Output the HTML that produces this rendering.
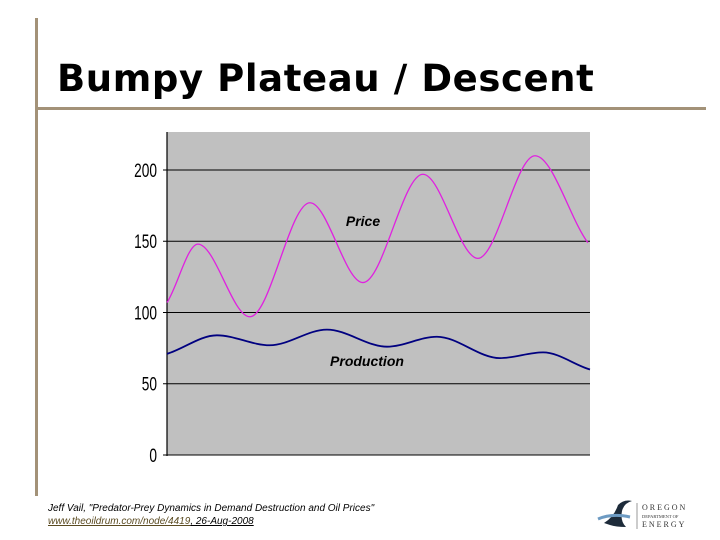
<!DOCTYPE html>
<html><head><meta charset="utf-8"><style>
body{margin:0;width:720px;height:540px;background:#fff;position:relative;overflow:hidden;font-family:"Liberation Sans",sans-serif}
.a{position:absolute}
</style></head><body>
<div class="a" style="left:35px;top:18px;width:3px;height:478px;background:#a39278"></div>
<div class="a" style="left:35px;top:107px;width:671px;height:3px;background:#a39278"></div>
<div class="a" style="left:57px;top:57px;font-family:'DejaVu Sans',sans-serif;font-size:37px;font-weight:bold;color:#000;letter-spacing:0.6px;white-space:nowrap">Bumpy Plateau / Descent</div>
<svg class="a" style="left:0;top:0" width="720" height="540">
<g id="g"></g>
</svg>
<div class="a" style="left:48px;top:502px;font-size:10px;font-style:italic;line-height:13px;color:#000">Jeff Vail, "Predator-Prey Dynamics in Demand Destruction and Oil Prices"<br><span style="text-decoration:underline;color:#5a4a20">www.theoildrum.com/node/4419</span><span style="text-decoration:underline">, 26-Aug-2008</span></div>
<svg class="a" style="left:596px;top:497px" width="120" height="36">
<path d="M8 26 Q18 20 22 8 Q28 2 36 4 Q28 6 26 14 Q24 24 30 30 Q20 30 14 28 Z" fill="#1d2b3a"/>
<path d="M2 22 Q16 16 34 20" stroke="#6d9bc3" stroke-width="3" fill="none"/>
<line x1="41" y1="6" x2="41" y2="32" stroke="#999" stroke-width="1"/>
<text x="46" y="13" font-size="8" letter-spacing="2" fill="#333" font-family="Liberation Serif,serif">OREGON</text>
<text x="46" y="21" font-size="4.5" fill="#333" font-family="Liberation Serif,serif">DEPARTMENT OF</text>
<text x="46" y="30" font-size="8" letter-spacing="2" fill="#333" font-family="Liberation Serif,serif">ENERGY</text>
</svg>
<script>
const yTicks=[0,50,100,150,200];
const priceT=[0,7.3,19.6,33.8,46.3,60.5,73.5,87,99.5];
const priceV=[107,148,97,177,121,197,138,210,149];
const prodT=[0,11.8,24.3,37.8,52,63.8,78.7,88.9,100];
const prodV=[71,84,77,88,76,83,68,72,60];
const X0=167,X1=590,Y0=455,TOP=132;
const sx=t=>X0+t/100*(X1-X0);
const sy=v=>Y0-v*(285/200);
const NS='http://www.w3.org/2000/svg',g=document.getElementById('g');
function mk(tag,at){const e=document.createElementNS(NS,tag);for(const k in at)e.setAttribute(k,at[k]);g.appendChild(e);return e;}
const bg=mk('rect',{x:X0,y:TOP,width:X1-X0,height:Y0-TOP,fill:'#c0c0c0'});


yTicks.forEach(v=>{
 if(v>0){const l=mk('line',{x1:X0,x2:X1,y1:sy(v),y2:sy(v),stroke:'#000','stroke-width':1});
 
 }
 const t=mk('text',{x:157,y:sy(v)+7,'text-anchor':'end','font-size':19,fill:'#000','font-family':'"Liberation Sans Narrow","Liberation Sans",sans-serif',transform:`translate(157 0) scale(0.72 1) translate(-157 0)`});
 t.textContent=v;
 
 
 mk('line',{x1:X0-4,x2:X0,y1:sy(v),y2:sy(v),stroke:'#000'});
});
const ax=mk('line',{x1:X0,x2:X0,y1:TOP,y2:Y0+1,stroke:'#000','stroke-width':1.2});


const bx=mk('line',{x1:X0,x2:X1,y1:Y0,y2:Y0,stroke:'#000','stroke-width':1});


function monotone(xs,ys){
 const n=xs.length,d=[],m=[];
 for(let i=0;i<n-1;i++)d.push((ys[i+1]-ys[i])/(xs[i+1]-xs[i]));
 for(let i=0;i<n;i++){
  if(i==0)m.push(d[0]*0.8);else if(i==n-1)m.push(d[n-2]*0.8);
  else m.push(d[i-1]*d[i]<=0?0:(d[i-1]+d[i])/2);
 }
 let p=`M${xs[0]},${ys[0]}`;
 for(let i=0;i<n-1;i++){const h=(xs[i+1]-xs[i])/3;
  p+=`C${xs[i]+h},${ys[i]+m[i]*h} ${xs[i+1]-h},${ys[i+1]-m[i+1]*h} ${xs[i+1]},${ys[i+1]}`;}
 return p;
}
const pp=mk('path',{d:monotone(priceT.map(sx),priceV.map(sy)),fill:'none',stroke:'#e020e0','stroke-width':1.3});


const pr=mk('path',{d:monotone(prodT.map(sx),prodV.map(sy)),fill:'none',stroke:'#000080','stroke-width':1.8});


const l1=mk('text',{x:363,y:226,'text-anchor':'middle','font-size':14,'font-style':'italic','font-weight':'bold',fill:'#000'});
l1.textContent='Price';


const l2=mk('text',{x:367,y:366,'text-anchor':'middle','font-size':14,'font-style':'italic','font-weight':'bold',fill:'#000'});
l2.textContent='Production';


</script>
</body></html>
